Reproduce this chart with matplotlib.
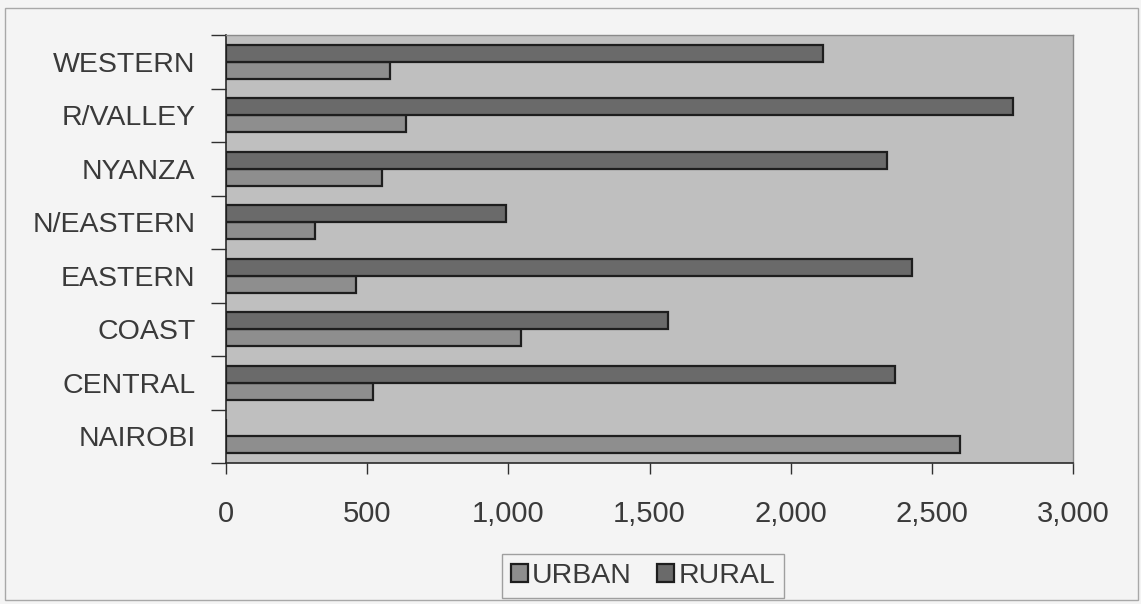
import matplotlib
matplotlib.use("Agg")
import matplotlib.pyplot as plt
import numpy as np
from matplotlib.patches import Rectangle
from matplotlib.ticker import FuncFormatter, FixedLocator

plt.rcParams["font.family"] = ["Liberation Sans", "DejaVu Sans"]

# Provinces, listed bottom to top as drawn
provinces = ["NAIROBI", "CENTRAL", "COAST", "EASTERN",
             "N/EASTERN", "NYANZA", "R/VALLEY", "WESTERN"]
urban = [2600, 520, 1045, 461, 316, 553, 638, 582]
rural = [0, 2370, 1565, 2429, 990, 2342, 2789, 2115]
x_ticks = [0, 500, 1000, 1500, 2000, 2500, 3000]

text_col = "#3a3a3a"
urban_col = "#8e8e8e"
rural_col = "#6a6a6a"
edge_col = "#1e1e1e"

W, H = 1141, 604
fig = plt.figure(figsize=(W / 100, H / 100), dpi=100, facecolor="#f4f4f4")

# thin frame around the whole chart
fig.patches.append(Rectangle((5 / W, 4 / H), 1133 / W, 592 / H,
                             transform=fig.transFigure, fill=False,
                             edgecolor="#a8a8a8", linewidth=1.0))

ax = fig.add_axes([226 / W, 1 - 463 / H, 847 / W, 428 / H])
ax.set_facecolor("#bfbfbf")

y = np.arange(len(provinces))
h = 0.32
ax.barh(y - h / 2, urban, height=h, color=urban_col, edgecolor=edge_col,
        linewidth=1.6, label="URBAN", zorder=3)
ax.barh(y + h / 2, rural, height=h, color=rural_col, edgecolor=edge_col,
        linewidth=1.6, label="RURAL", zorder=3)

ax.set_xlim(0, 3000)
ax.set_ylim(-0.5, len(provinces) - 0.5)

# category labels centred, tick marks at category boundaries
ax.yaxis.set_major_locator(FixedLocator(np.arange(-0.5, len(provinces), 1.0)))
ax.yaxis.set_major_formatter(FuncFormatter(lambda v, p: ""))
ax.yaxis.set_minor_locator(FixedLocator(y))
ax.set_yticklabels(provinces, minor=True)
ax.tick_params(axis="y", which="major", direction="out", length=11,
               width=1.0, color="#303030")
ax.tick_params(axis="y", which="minor", length=0, pad=22,
               labelsize=20.5, labelcolor=text_col)

ax.set_xticks(x_ticks)
ax.xaxis.set_major_formatter(FuncFormatter(lambda v, p: f"{int(v):,}"))
ax.tick_params(axis="x", direction="out", length=8, width=1.0,
               color="#303030", pad=19, labelsize=21, labelcolor=text_col)

for side in ("left", "bottom"):
    ax.spines[side].set_color("#2a2a2a")
    ax.spines[side].set_linewidth(1.2)
for side in ("top", "right"):
    ax.spines[side].set_color("#8a8a8a")
    ax.spines[side].set_linewidth(1.0)

leg = fig.legend(loc="center", bbox_to_anchor=(643 / W, 1 - 576 / H),
                 ncol=2, frameon=True, fontsize=20.5, handlelength=0.6,
                 handleheight=0.6, handletextpad=0.15, columnspacing=0.9,
                 borderpad=0.3, fancybox=False, labelcolor=text_col)
leg.get_frame().set_edgecolor("#8a8a8a")
leg.get_frame().set_facecolor("#f4f4f4")
leg.get_frame().set_linewidth(1.0)

fig.savefig("out.png", dpi=100, facecolor=fig.get_facecolor())
